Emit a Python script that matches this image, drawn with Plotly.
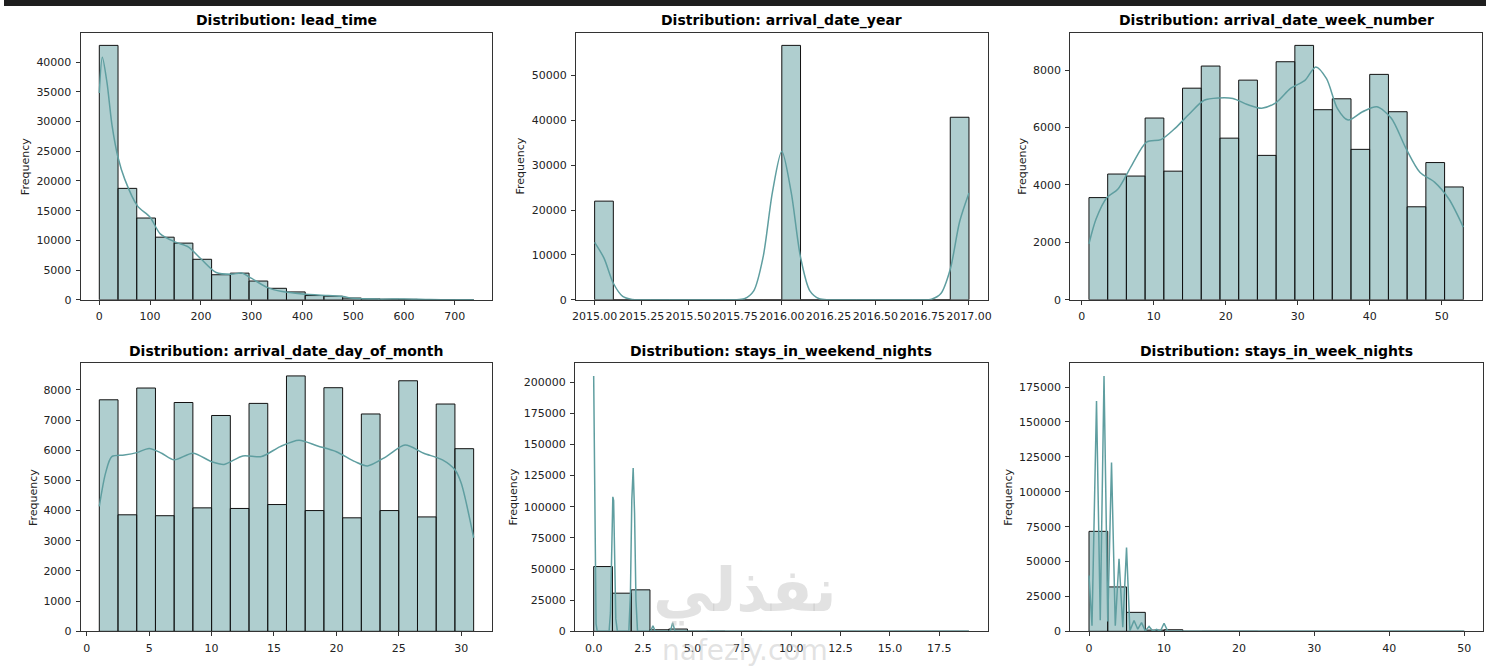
import numpy as np
import plotly.graph_objects as go

W, H = 1490, 670

# ---------------- data ----------------
features = ["lead_time", "arrival_date_year", "arrival_date_week_number",
            "arrival_date_day_of_month", "stays_in_weekend_nights", "stays_in_week_nights"]

lead_time_range = [0, 737]
lead_time_counts = [42800, 18750, 13760, 10540, 9540, 6820, 4220, 4490, 3160, 1940,
                    1330, 720, 610, 300, 150, 100, 80, 50, 30, 10]
lead_time_kde_x = [0, 6, 15, 25, 37, 50, 75, 100, 120, 150, 175, 200, 230, 260, 280, 300,
                   330, 360, 400, 450, 480, 500, 550, 600, 650, 700, 737]
lead_time_kde_y = [34800, 40800, 36600, 29400, 23900, 20300, 15800, 13900, 11100, 9700, 8900,
                   6900, 4600, 4300, 4500, 3600, 2100, 1400, 1000, 720, 550, 250, 120, 140, 50, 15, 5]

year_range = [2015, 2017]
year_counts = [21996, 0, 0, 0, 0, 0, 0, 0, 0, 0, 56707, 0, 0, 0, 0, 0, 0, 0, 0, 40687]
year_kde_x = [2015.0, 2015.05, 2015.1, 2015.15, 2015.2, 2015.25, 2015.3, 2015.7, 2015.75,
              2015.8, 2015.85, 2015.9, 2015.95, 2016.0, 2016.05, 2016.1, 2016.15, 2016.2,
              2016.25, 2016.3, 2016.7, 2016.75, 2016.8, 2016.85, 2016.9, 2016.95, 2017.0]
year_kde_y = [12800, 9300, 3700, 770, 90, 5, 0, 0, 10, 250, 2000, 9500, 24000, 33100, 24000,
              9500, 2000, 250, 10, 0, 0, 10, 150, 1400, 6800, 17400, 23800]

week_range = [1, 53]
week_counts = [3560, 4380, 4310, 6330, 4480, 7370, 8140, 5630, 7650, 5030,
               8290, 8860, 6620, 7000, 5240, 7850, 6550, 3240, 4780, 3930]
week_kde_x = [1, 2, 3.5, 5, 7, 9, 11, 13, 15, 17, 19, 21, 23, 25, 27, 29, 31, 32.5, 34,
              35.5, 37, 39, 41, 43, 45, 47, 49, 51, 53]
week_kde_y = [1950, 2820, 3560, 3850, 4710, 5490, 5580, 5980, 6490, 6950, 7030, 7010, 6800,
              6670, 6870, 7360, 7640, 8110, 7700, 6670, 6260, 6550, 6720, 6320, 5290, 4430,
              4100, 3510, 2530]

day_range = [1, 31]
day_counts = [7670, 3860, 8060, 3830, 7580, 4090, 7150, 4070, 7550, 4200,
              8460, 4000, 8070, 3760, 7200, 4000, 8300, 3790, 7530, 6050]
day_kde_x = [1, 1.5, 2, 3, 4, 5, 6, 7, 8.5, 10, 11, 12.5, 14, 15.5, 17, 18.5, 20, 21.5,
             22.5, 24, 25.5, 27, 28.5, 29.5, 30, 31]
day_kde_y = [4140, 5240, 5790, 5840, 5920, 6060, 5900, 5680, 5900, 5620, 5530, 5810, 5790,
             6120, 6330, 6140, 5950, 5620, 5480, 5790, 6170, 5900, 5680, 5350, 4910, 3100]

weekend_range = [0, 19]
weekend_counts = [51998, 30626, 33308, 1259, 1855, 79, 153, 19, 60, 11,
                  7, 0, 5, 3, 2, 0, 3, 0, 1, 1]
weekend_kde_x = [0, 0.04, 0.08, 0.12, 0.18, 0.78, 0.85, 0.92, 0.97, 1.01, 1.06, 1.12, 1.2,
                 1.78, 1.86, 1.93, 2.0, 2.07, 2.14, 2.22, 2.88, 3.0, 3.12, 3.88, 4.0, 4.12,
                 4.9, 5.0, 5.1, 5.9, 6.0, 6.1, 19]
weekend_kde_y = [205000, 130000, 45000, 6000, 0, 0, 15000, 80000, 108000, 105000, 60000,
                 10000, 0, 0, 30000, 105000, 131000, 95000, 25000, 0, 0, 4500, 0, 0, 7000, 0,
                 0, 300, 0, 0, 500, 0, 0]

weeknights_range = [0, 50]
weeknights_counts = [71640, 31820, 13600, 890, 1130, 62, 105, 50, 63, 3,
                     7, 0, 6, 2, 1, 0, 4, 0, 0, 1]
weeknights_kde_x = [0, 0.4, 1, 1.5, 2, 2.5, 3, 3.5, 4, 4.5, 5, 5.45, 6, 6.5, 7, 7.5, 8, 8.5,
                    9, 9.5, 10, 10.5, 11, 14.5, 15, 15.5, 20, 50]
weeknights_kde_y = [40000, 4000, 165000, 8000, 183000, 7000, 121000, 4000, 52000, 3000,
                    60000, 500, 7800, 1500, 6200, 300, 3500, 200, 1500, 100, 5800, 100, 0, 0,
                    500, 0, 0, 0]

ranges = [lead_time_range, year_range, week_range, day_range, weekend_range, weeknights_range]
counts = [lead_time_counts, year_counts, week_counts, day_counts, weekend_counts, weeknights_counts]
kde_xs = [lead_time_kde_x, year_kde_x, week_kde_x, day_kde_x, weekend_kde_x, weeknights_kde_x]
kde_ys = [lead_time_kde_y, year_kde_y, week_kde_y, day_kde_y, weekend_kde_y, weeknights_kde_y]

# ---------------- layout / style ----------------
BAR_FILL = "rgba(95,158,160,0.5)"
KDE_COLOR = "#5f9ea0"
FONT = "DejaVu Sans"

# axes boxes in pixels: (left, right, top, bottom)
boxes = [(77, 491, 33, 303), (575, 989, 33, 303), (1072, 1486, 33, 303),
         (77, 491, 367, 638), (574, 989, 367, 638), (1072, 1487, 367, 638)]
ylabel_x = [21, 519, 1024, 29, 512, 1010]
x_dtick = [100, 0.25, 10, 5, 2.5, 10]
x_fmt = ["d", ".2f", "d", "d", ".1f", "d"]
y_dtick = [5000, 10000, 2000, 1000, 25000, 25000]
smooth = [True, True, True, True, False, False]

fig = go.Figure()
layout = dict(width=W, height=H, margin=dict(l=0, r=0, t=0, b=0),
              paper_bgcolor="white", plot_bgcolor="white", showlegend=False,
              font=dict(family=FONT, color="#222"), bargap=0)
annotations = []

for i in range(6):
    lo, hi = ranges[i]
    n = len(counts[i])
    edges = np.linspace(lo, hi, n + 1)
    centers = (edges[:-1] + edges[1:]) / 2
    width = edges[1] - edges[0]
    ax = "" if i == 0 else str(i + 1)
    fig.add_trace(go.Bar(x=centers, y=counts[i], width=width,
                         marker=dict(color=BAR_FILL, line=dict(color="#111", width=1)),
                         xaxis="x" + ax, yaxis="y" + ax, hoverinfo="x+y"))
    fig.add_trace(go.Scatter(x=kde_xs[i], y=kde_ys[i], mode="lines",
                             line=dict(color=KDE_COLOR, width=1.5,
                                       shape="spline" if smooth[i] else "linear",
                                       smoothing=0.8 if smooth[i] else None),
                             xaxis="x" + ax, yaxis="y" + ax))
    l, r, t, b = boxes[i]
    ymax = max(max(counts[i]), max(kde_ys[i])) * 1.05
    pad = (hi - lo) * 0.05
    common = dict(showline=True, mirror=True, linecolor="#333", linewidth=1,
                  ticks="outside", ticklen=4, tickcolor="#333", tickwidth=1,
                  ticklabelstandoff=2,
                  showgrid=False, zeroline=False,
                  tickfont=dict(family=FONT, size=11, color="#222"))
    layout["xaxis" + ax] = dict(domain=[l / W, r / W], anchor="y" + ax,
                                range=[lo - pad, hi + pad], dtick=x_dtick[i], tickangle=0,
                                tick0=0 if i != 1 else 2015, tickformat=x_fmt[i], **common)
    layout["yaxis" + ax] = dict(domain=[1 - b / H, 1 - t / H], anchor="x" + ax,
                                range=[0, ymax], dtick=y_dtick[i], tickformat="d", **common)
    annotations.append(dict(text="<b>Distribution: %s</b>" % features[i],
                            x=(l + r) / 2 / W, y=1 - (t - 12) / H, xref="paper", yref="paper",
                            xanchor="center", yanchor="middle", showarrow=False,
                            font=dict(family=FONT, size=14, color="black")))
    annotations.append(dict(text="Frequency", x=ylabel_x[i] / W, y=1 - (t + b) / 2 / H,
                            xref="paper", yref="paper", xanchor="center", yanchor="middle",
                            textangle=-90, showarrow=False,
                            font=dict(family=FONT, size=11, color="#222")))

# watermark
annotations.append(dict(text="<b>نفذلي</b>", x=745 / W, y=1 - 597 / H, xref="paper", yref="paper",
                        xanchor="center", yanchor="middle", showarrow=False,
                        font=dict(family="DejaVu Sans", size=60, color="rgba(190,190,190,0.45)")))
annotations.append(dict(text="nafezly.com", x=745 / W, y=1 - 657 / H, xref="paper", yref="paper",
                        xanchor="center", yanchor="middle", showarrow=False,
                        font=dict(family="DejaVu Sans", size=28, color="rgba(190,190,190,0.45)")))

layout["annotations"] = annotations
layout["shapes"] = [dict(type="rect", xref="paper", yref="paper", x0=0, x1=1,
                         y0=1 - 6 / H, y1=1, fillcolor="#1e1e1e", line=dict(width=0), layer="above")]
fig.update_layout(**layout)

fit_js = ("document.documentElement.style.margin='0';"
          "document.body.style.margin='0';document.body.style.overflow='hidden';"
          "var gd=document.getElementById('{plot_id}');"
          "Plotly.relayout(gd,{width:window.innerWidth,height:window.innerHeight});")
fig.write_html("out.html", config={"displayModeBar": False, "staticPlot": True},
               post_script=fit_js)
